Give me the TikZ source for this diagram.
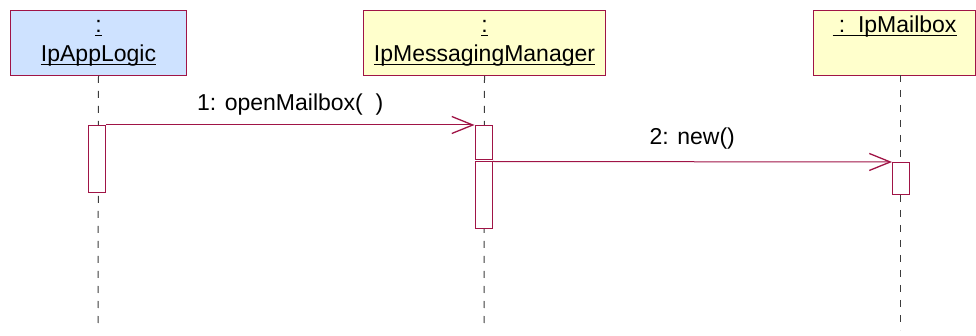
\documentclass[tikz,border=0pt]{standalone}
\usepackage{fontspec}
\setmainfont{Liberation Sans}
\usetikzlibrary{arrows.meta,positioning}

\definecolor{umlred}{RGB}{160,20,70}
\definecolor{headblue}{RGB}{206,226,255}
\definecolor{headyellow}{RGB}{255,255,204}
\definecolor{lifegray}{RGB}{60,60,60}

% underlined object name
\newcommand{\objname}[1]{\setbox0\hbox{#1}\rlap{\box0}\setbox0\hbox{#1}\rule[-4pt]{\wd0}{1.6pt}}

\begin{document}
\begin{tikzpicture}[x=1pt, y=-1pt, font=\fontsize{23}{29}\selectfont]
      % Define styles
      \tikzstyle{head} = [rectangle, draw=umlred, line width=1pt, minimum height=65pt, inner sep=0pt, align=center, anchor=north west]
      \tikzstyle{life} = [draw=lifegray, line width=1pt, dash pattern=on 7pt off 8pt]
      \tikzstyle{act} = [rectangle, draw=umlred, fill=white, line width=1pt, minimum width=17pt, inner sep=0pt, anchor=north]
      \tikzstyle{msg} = [draw=umlred, line width=1pt, -{Straight Barb[length=21pt, width=17pt, line width=1.3pt]}]

      \useasboundingbox (0,0) rectangle (976,336);

      % Place object heads
      \node [head, fill=headblue, minimum width=176pt] (app) at (10,10) {\objname{:}\\\objname{IpAppLogic}};
      \node [head, fill=headyellow, minimum width=242pt] (mgr) at (363,10) {\objname{:}\\\objname{IpMessagingManager}};
      \node [head, fill=headyellow, minimum width=162pt] (box) at (813,10) {\objname{\ :\ \ IpMailbox}\\\strut};

      % Lifeline ends
      \coordinate (append) at (98,330);
      \coordinate (mgrend) at (484,330);
      \coordinate (boxtop) at (900,75);
      \coordinate (boxend) at (900,330);

      % Draw lifelines
      \path [life] (app.south) -- (append);
      \path [life] (mgr.south) -- (mgrend);
      \path [life] (boxtop) -- (boxend);

      % Place activations
      \node [act, minimum height=67pt] (appact) at (97,125) {};
      \node [act, minimum height=34pt] (mgract) at (483.5,125) {};
      \node [act, minimum height=67pt] (mgrnew) at (483.5,161.5) {};
      \node [act, minimum height=32pt] (boxact) at (901,162) {};

      % Draw messages
      \path [msg] (appact.north east) -- node [above=6pt] {1: openMailbox(\ \ )} (mgract.north west);
      \path [msg] (mgrnew.north east) -- node [above=9pt] {2: new()} (boxact.north west);
    \end{tikzpicture}
\end{document}
